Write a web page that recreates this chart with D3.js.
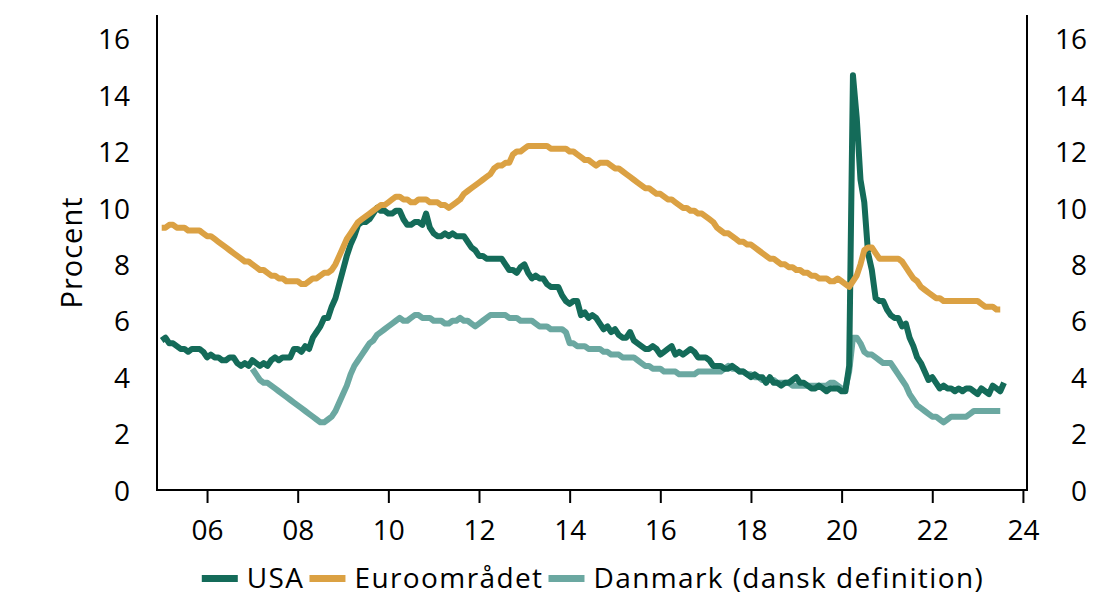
<!DOCTYPE html>
<html>
<head>
<meta charset="utf-8">
<script src="https://cdn.jsdelivr.net/npm/d3@7/dist/d3.min.js"></script>
<style>
  html, body { margin: 0; padding: 0; background: #fff; }
  svg { display: block; }
  text { font-family: "Open Sans", "Noto Sans", sans-serif; fill: #000; }
</style>
</head>
<body>
<svg id="chart" width="1103" height="596"></svg>
<script>
// ---- Data (monthly, unemployment rate in percent) ----
const seriesNames = ["USA", "Euroområdet", "Danmark (dansk definition)"];
const seriesColors = ["#146B59", "#DBA143", "#6BA8A1"];

const usaStart = 2005; // January 2005
const usa = [
  5.3, 5.4, 5.2, 5.2, 5.1, 5.0, 5.0, 4.9, 5.0, 5.0, 5.0, 4.9,
  4.7, 4.8, 4.7, 4.7, 4.6, 4.6, 4.7, 4.7, 4.5, 4.4, 4.5, 4.4,
  4.6, 4.5, 4.4, 4.5, 4.4, 4.6, 4.7, 4.6, 4.7, 4.7, 4.7, 5.0,
  5.0, 4.9, 5.1, 5.0, 5.4, 5.6, 5.8, 6.1, 6.1, 6.5, 6.8, 7.3,
  7.8, 8.3, 8.7, 9.0, 9.4, 9.5, 9.5, 9.6, 9.8, 10.0, 9.9, 9.9,
  9.8, 9.8, 9.9, 9.9, 9.6, 9.4, 9.4, 9.5, 9.5, 9.4, 9.8, 9.3,
  9.1, 9.0, 9.0, 9.1, 9.0, 9.1, 9.0, 9.0, 9.0, 8.8, 8.6, 8.5,
  8.3, 8.3, 8.2, 8.2, 8.2, 8.2, 8.2, 8.0, 7.8, 7.8, 7.7, 7.9,
  8.0, 7.7, 7.5, 7.6, 7.5, 7.5, 7.3, 7.2, 7.2, 7.2, 6.9, 6.7,
  6.6, 6.7, 6.7, 6.2, 6.3, 6.1, 6.2, 6.1, 5.9, 5.7, 5.8, 5.6,
  5.7, 5.5, 5.4, 5.4, 5.6, 5.3, 5.2, 5.1, 5.0, 5.0, 5.1, 5.0,
  4.8, 4.9, 5.0, 5.1, 4.8, 4.9, 4.8, 4.9, 5.0, 4.9, 4.7, 4.7,
  4.7, 4.6, 4.4, 4.4, 4.4, 4.3, 4.3, 4.4, 4.3, 4.2, 4.2, 4.1,
  4.0, 4.1, 4.0, 4.0, 3.8, 4.0, 3.8, 3.8, 3.7, 3.8, 3.8, 3.9,
  4.0, 3.8, 3.8, 3.7, 3.6, 3.6, 3.7, 3.6, 3.5, 3.6, 3.6, 3.6,
  3.5, 3.5, 4.4, 14.7, 13.2, 11.0, 10.2, 8.4, 7.8, 6.8, 6.7, 6.7,
  6.4, 6.2, 6.1, 6.1, 5.8, 5.9, 5.4, 5.1, 4.7, 4.5, 4.2, 3.9,
  4.0, 3.8, 3.6, 3.7, 3.6, 3.6, 3.5, 3.6, 3.5, 3.6, 3.6, 3.5,
  3.4, 3.6, 3.5, 3.4, 3.7, 3.6, 3.5, 3.8
];

const euroStart = 2005; // January 2005
const euro = [
  9.3, 9.3, 9.4, 9.4, 9.3, 9.3, 9.3, 9.2, 9.2, 9.2, 9.2, 9.1,
  9.0, 9.0, 8.9, 8.8, 8.7, 8.6, 8.5, 8.4, 8.3, 8.2, 8.1, 8.1,
  8.0, 7.9, 7.8, 7.8, 7.7, 7.6, 7.6, 7.5, 7.5, 7.4, 7.4, 7.4,
  7.4, 7.3, 7.3, 7.4, 7.5, 7.5, 7.6, 7.7, 7.7, 7.8, 8.0, 8.3,
  8.6, 8.9, 9.1, 9.3, 9.5, 9.6, 9.7, 9.8, 9.9, 10.0, 10.1, 10.1,
  10.2, 10.3, 10.4, 10.4, 10.3, 10.3, 10.2, 10.2, 10.3, 10.3, 10.3, 10.2,
  10.2, 10.2, 10.1, 10.1, 10.0, 10.1, 10.2, 10.3, 10.5, 10.6, 10.7, 10.8,
  10.9, 11.0, 11.1, 11.2, 11.4, 11.5, 11.5, 11.6, 11.6, 11.9, 12.0, 12.0,
  12.1, 12.2, 12.2, 12.2, 12.2, 12.2, 12.2, 12.1, 12.1, 12.1, 12.1, 12.1,
  12.0, 12.0, 11.9, 11.8, 11.7, 11.7, 11.6, 11.5, 11.6, 11.6, 11.6, 11.5,
  11.4, 11.4, 11.3, 11.2, 11.1, 11.0, 10.9, 10.8, 10.7, 10.7, 10.6, 10.5,
  10.5, 10.4, 10.3, 10.3, 10.2, 10.1, 10.0, 10.0, 9.9, 9.9, 9.8, 9.8,
  9.7, 9.6, 9.5, 9.3, 9.2, 9.1, 9.1, 9.0, 8.9, 8.8, 8.8, 8.7,
  8.7, 8.6, 8.5, 8.4, 8.3, 8.2, 8.2, 8.1, 8.0, 8.0, 7.9, 7.9,
  7.8, 7.8, 7.7, 7.7, 7.6, 7.6, 7.5, 7.5, 7.5, 7.4, 7.4, 7.5,
  7.4, 7.3, 7.2, 7.4, 7.6, 8.0, 8.5, 8.6, 8.6, 8.4, 8.2, 8.2,
  8.2, 8.2, 8.2, 8.2, 8.1, 7.9, 7.7, 7.5, 7.4, 7.2, 7.1, 7.0,
  6.9, 6.8, 6.8, 6.7, 6.7, 6.7, 6.7, 6.7, 6.7, 6.7, 6.7, 6.7,
  6.7, 6.6, 6.5, 6.5, 6.5, 6.4, 6.4
];

const dkStart = 2007; // January 2007
const dk = [
  4.3, 4.1, 3.9, 3.8, 3.8, 3.7, 3.6, 3.5, 3.4, 3.3, 3.2, 3.1,
  3.0, 2.9, 2.8, 2.7, 2.6, 2.5, 2.4, 2.4, 2.5, 2.6, 2.8, 3.1,
  3.4, 3.7, 4.1, 4.4, 4.6, 4.8, 5.0, 5.2, 5.3, 5.5, 5.6, 5.7,
  5.8, 5.9, 6.0, 6.1, 6.0, 6.0, 6.1, 6.2, 6.2, 6.1, 6.1, 6.1,
  6.0, 6.0, 6.0, 5.9, 5.9, 6.0, 6.0, 6.1, 6.0, 6.0, 5.9, 5.8,
  5.9, 6.0, 6.1, 6.2, 6.2, 6.2, 6.2, 6.2, 6.1, 6.1, 6.1, 6.0,
  6.0, 6.0, 6.0, 5.9, 5.8, 5.8, 5.8, 5.7, 5.7, 5.7, 5.7, 5.6,
  5.2, 5.2, 5.1, 5.1, 5.1, 5.0, 5.0, 5.0, 5.0, 4.9, 4.9, 4.8,
  4.8, 4.8, 4.7, 4.7, 4.7, 4.7, 4.6, 4.5, 4.4, 4.4, 4.3, 4.3,
  4.3, 4.2, 4.2, 4.2, 4.2, 4.1, 4.1, 4.1, 4.1, 4.1, 4.2, 4.2,
  4.2, 4.2, 4.2, 4.2, 4.2, 4.3, 4.4, 4.3, 4.3, 4.2, 4.2, 4.1,
  4.1, 4.0, 4.0, 3.9, 3.9, 3.9, 3.9, 3.8, 3.8, 3.8, 3.8, 3.7,
  3.7, 3.7, 3.7, 3.7, 3.7, 3.7, 3.7, 3.7, 3.7, 3.8, 3.8, 3.7,
  3.6, 3.6, 4.2, 5.4, 5.4, 5.2, 4.9, 4.8, 4.8, 4.7, 4.6, 4.5,
  4.5, 4.5, 4.3, 4.1, 3.9, 3.7, 3.4, 3.2, 3.0, 2.9, 2.8, 2.7,
  2.6, 2.6, 2.5, 2.4, 2.5, 2.6, 2.6, 2.6, 2.6, 2.6, 2.7, 2.8,
  2.8, 2.8, 2.8, 2.8, 2.8, 2.8, 2.8
];

const xTickYears = [2006, 2008, 2010, 2012, 2014, 2016, 2018, 2020, 2022, 2024];
const xTickLabels = ["06", "08", "10", "12", "14", "16", "18", "20", "22", "24"];
const yTicks = [0, 2, 4, 6, 8, 10, 12, 14, 16];
const yAxisTitle = "Procent";

// ---- Layout ----
const svg = d3.select("#chart");
const plot = { left: 157, right: 1027, top: 15, bottom: 490 };

const x = d3.scaleLinear().domain([2004.896, 2024.09]).range([plot.left, plot.right]);
const y = d3.scaleLinear().domain([0, 16.84]).range([plot.bottom, plot.top]);

function toPoints(start, values) {
  return values.map((v, i) => ({ t: start + i / 12, v }));
}
const series = [
  { name: seriesNames[0], color: seriesColors[0], pts: toPoints(usaStart, usa) },
  { name: seriesNames[1], color: seriesColors[1], pts: toPoints(euroStart, euro) },
  { name: seriesNames[2], color: seriesColors[2], pts: toPoints(dkStart, dk) }
];

const line = d3.line().x(d => x(d.t)).y(d => y(d.v));

// draw order: Danmark, USA, Euro
[series[2], series[0], series[1]].forEach(s => {
  svg.append("path")
    .datum(s.pts)
    .attr("d", line)
    .attr("fill", "none")
    .attr("stroke", s.color)
    .attr("stroke-width", 6)
    .attr("stroke-linejoin", "round");
});

// ---- Axes ----
const tickFont = 28;
const labelFont = 28;
const labelSpacing = 1.4;

// bottom axis
const xAxis = d3.axisBottom(x)
  .tickValues(xTickYears)
  .tickFormat((d, i) => xTickLabels[i])
  .tickSize(13)
  .tickPadding(17)
  .tickSizeOuter(0);
const gx = svg.append("g").attr("transform", `translate(0,${plot.bottom})`).call(xAxis);
gx.select(".domain").remove();
gx.selectAll(".tick line").attr("stroke", "#000").attr("stroke-width", 2);
gx.selectAll(".tick text").attr("font-size", tickFont).attr("font-family", "Open Sans").attr("fill", "#000");

// left axis labels (no tick marks)
const yAxisL = d3.axisLeft(y).tickValues(yTicks).tickSize(0).tickPadding(27).tickFormat(d3.format("d"));
const gl = svg.append("g").attr("transform", `translate(${plot.left},0)`).call(yAxisL);
gl.select(".domain").remove();
gl.selectAll(".tick text").attr("font-size", tickFont).attr("font-family", "Open Sans")
  .attr("fill", "#000").attr("dy", "0.36em");

// right axis labels, right-aligned
const yAxisR = d3.axisRight(y).tickValues(yTicks).tickSize(0).tickPadding(0).tickFormat(d3.format("d"));
const gr = svg.append("g").attr("transform", `translate(1087,0)`).call(yAxisR);
gr.select(".domain").remove();
gr.selectAll(".tick text").attr("font-size", tickFont).attr("font-family", "Open Sans")
  .attr("fill", "#000").attr("text-anchor", "end").attr("dy", "0.36em");

// frame lines: left, right, bottom
svg.append("line").attr("x1", plot.left).attr("x2", plot.left).attr("y1", plot.top).attr("y2", plot.bottom + 1)
  .attr("stroke", "#000").attr("stroke-width", 2);
svg.append("line").attr("x1", plot.right).attr("x2", plot.right).attr("y1", plot.top).attr("y2", plot.bottom + 1)
  .attr("stroke", "#000").attr("stroke-width", 2);
svg.append("line").attr("x1", plot.left - 1).attr("x2", plot.right + 1).attr("y1", plot.bottom).attr("y2", plot.bottom)
  .attr("stroke", "#000").attr("stroke-width", 2);

// axis titles
svg.append("text")
  .attr("transform", `translate(82,252.5) rotate(-90)`)
  .attr("text-anchor", "middle")
  .attr("font-size", labelFont + 1)
  .attr("letter-spacing", 1)
  .text(yAxisTitle);
// right-hand title, almost entirely beyond the right edge as in the reference
svg.append("text")
  .attr("transform", `translate(1103.5,252.5) rotate(90)`)
  .attr("text-anchor", "middle")
  .attr("font-size", labelFont + 1)
  .attr("letter-spacing", 1)
  .attr("fill", "#777")
  .text(yAxisTitle);

// ---- Legend (centred under the plot) ----
const legendBaseline = 588;
const swW = 36, swH = 7, swGap = 9, itemGap = 5;
const legend = svg.append("g");
const items = series.map(s => {
  const t = legend.append("text")
    .attr("y", legendBaseline)
    .attr("font-size", labelFont)
    .attr("letter-spacing", labelSpacing)
    .text(s.name);
  return { s, t, w: t.node().getComputedTextLength() };
});
const totalW = d3.sum(items, d => swW + swGap + d.w) + itemGap * (items.length - 1);
let lx = (plot.left + plot.right) / 2 - totalW / 2 + 1;
items.forEach(d => {
  legend.append("rect").attr("x", lx).attr("y", 575).attr("width", swW).attr("height", swH).attr("fill", d.s.color);
  d.t.attr("x", lx + swW + swGap);
  lx += swW + swGap + d.w + itemGap;
});
</script>
</body>
</html>
